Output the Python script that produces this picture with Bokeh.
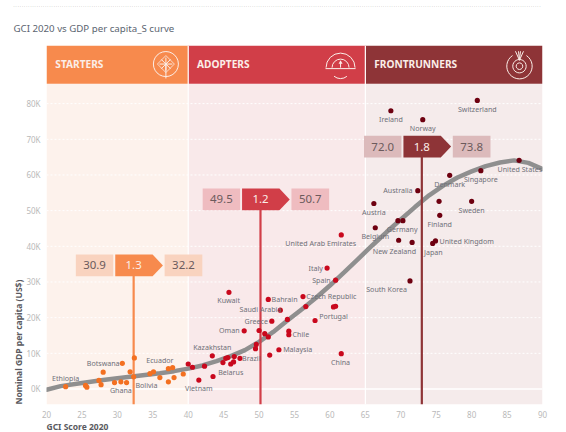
from bokeh.plotting import figure
from bokeh.models import Range1d, FixedTicker, CustomJSTickFormatter, Span, Title
from bokeh.embed import file_html
from bokeh.resources import INLINE
from bokeh.core.properties import value

FONT = "Noto Sans"

starters_x = [22.7,25.5,25.7,27.4,27.7,28.0,29.6,30.5,30.7,31.3,31.8,32.3,32.4,34.6,35.1,36.0,37.2,37.8,37.2,38.0,39.3]
starters_y = [0.65,1.0,0.5,2.4,1.2,4.7,1.8,2.0,7.2,1.8,4.8,3.4,8.7,4.3,4.8,3.2,5.7,6.0,2.0,3.2,4.2]
adopters_x = [40.0,40.6,41.5,42.3,43.4,43.5,44.9,45.3,45.6,45.75,46.0,46.4,46.5,47.3,47.9,49.5,49.6,50.0,50.8,51.3,51.3,51.5,51.8,52.8,53.0,54.0,54.2,54.2,56.2,56.6,57.9,59.6,60.5,60.8,60.8,61.6,61.6]
adopters_y = [7.0,6.1,2.5,6.4,9.3,3.5,7.4,8.6,8.8,27.1,7.0,7.6,9.1,8.6,16.3,11.3,12.5,16.4,15.5,14.6,25.1,9.5,19.0,11.0,22.1,19.5,16.2,15.2,25.9,23.1,19.2,33.9,23.0,23.2,30.5,43.2,9.9]
front_x = [66.2,66.4,68.6,69.6,70.3,69.7,71.6,71.3,72.4,73.1,74.5,74.9,75.4,75.5,76.9,80.0,80.8,81.3,86.7]
front_y = [52.0,45.2,78.0,47.2,47.2,41.7,41.1,30.3,55.6,75.5,40.8,41.5,52.6,48.7,59.9,52.6,80.9,61.2,64.1]

curve_x = [20,22,25,28,30,33,36,38,40,42,44,46,48,50,52,54,56,58,60,62,64,66,68,70,72,74,76,78,80,82,84,86,88,90]
curve_y = [-0.2,0.8,1.7,2.5,3.0,3.7,4.4,5.0,5.7,6.6,7.8,9.2,10.9,13.2,16.0,19.2,22.3,25.5,29.0,32.7,36.5,40.3,44.0,47.5,51.0,54.3,57.0,59.3,61.0,62.5,63.5,64.1,63.4,61.7]

label_names = ["Ethiopia","Botswana","Ghana","Bolivia","Ecuador","Kazakhstan","Vietnam","Belarus","Brazil","Kuwait","Saudi Arabia","Greece","Oman","Bahrain","Malaysia","Chile","Czech Republic","Portugal","Italy","Spain","United Arab Emirates","China","South Korea","Belgium","Germany","New Zealand","Japan","United Kingdom","Finland","Switzerland","Ireland","Norway","United States","Singapore","Denmark","Australia","Austria","Sweden"]
label_x = [22.7,28.0,30.5,34.1,36.0,43.4,41.5,46.0,48.9,45.7,50.2,49.6,45.8,53.6,55.45,55.9,60.2,60.5,58.0,58.8,58.7,61.5,68.0,66.4,70.2,69.1,74.6,79.3,75.5,80.8,68.6,73.1,86.8,81.3,76.9,69.6,66.2,80.0]
label_y = [3.2,7.25,-0.3,1.0,8.2,11.8,0.2,4.7,8.7,24.9,22.3,19.05,16.4,25.3,11.15,15.3,26.1,20.5,34.0,30.6,41.0,7.5,28.0,42.8,44.8,38.8,38.4,41.5,46.2,78.5,75.6,73.2,61.8,58.9,57.5,55.7,49.6,50.3]

phases = ["STARTERS","ADOPTERS","FRONTRUNNERS"]
phase_start = [20,40,65]
phase_end = [40,65,90]
header_col = ["#f78a4d","#d13e48","#8e3437"]
band_col = ["#fdf2ec","#f9e9ea","#f5ebeb"]
box_col = ["#f9d3bf","#efbcc0","#dcbabb"]
dot_col = ["#f37021","#c9081d","#6e0010"]

mark_x = [32.3,50.2,72.97]
mark_low = ["30.9","49.5","72.0"]
mark_gap = ["1.3","1.2","1.8"]
mark_high = ["32.2","50.7","73.8"]
mark_y = [34.65,53.15,67.95]

X0, X1, Y0, Y1 = 20, 90, -4.35, 96.3
HEAD_LOW = 85.6
ICON = "#fbeee8"

p = figure(width=566, height=432, output_backend="svg", toolbar_location=None,
           x_range=Range1d(X0, X1), y_range=Range1d(Y0, Y1),
           min_border_left=46, min_border_right=24, min_border_top=43, min_border_bottom=28,
           background_fill_color="white", outline_line_color=None)

p.xgrid.visible = False
p.ygrid.visible = False

for i in range(3):
    p.quad(left=phase_start[i], right=phase_end[i], bottom=Y0, top=HEAD_LOW, fill_color=band_col[i], line_color=None, level="image")
    p.quad(left=phase_start[i], right=phase_end[i], bottom=HEAD_LOW, top=Y1, fill_color=header_col[i], line_color=None, level="image")
    p.text(x=[phase_start[i]+1.25], y=[91.2], text=[phases[i]], text_font=value(FONT), text_font_style="bold",
           text_font_size="7.6pt", text_color=ICON, text_baseline="middle")

for edge in phase_start[1:]:
    p.add_layout(Span(location=edge, dimension="height", line_color="white", line_width=1.2, level="underlay"))

for v in range(10, 90, 10):
    p.add_layout(Span(location=v, dimension="width", line_color="white", line_width=1, line_dash="2 2", level="underlay"))
p.add_layout(Span(location=0, dimension="width", line_color="white", line_width=1.5, level="underlay"))

# header icons, sized in screen pixels around a centre
PX, PY = 1/7.08, 1/3.5875
def ring(cx, cy, r, a0=0.0, a1=6.28):
    p.arc([cx], [cy], radius=r, radius_units="screen", start_angle=a0, end_angle=a1, line_color=ICON, line_width=1)
def stroke(cx, cy, x0, y0, x1, y1, w=1):
    p.segment([cx+x0*PX], [cy+y0*PY], [cx+x1*PX], [cy+y1*PY], line_color=ICON, line_width=w)

# pinwheel
c1x, c1y = 36.85, 91.1
ring(c1x, c1y, 12.5)
stroke(c1x, c1y, 0, 0, 0, -14.5)
p.scatter([c1x], [c1y], size=13, marker="asterisk", line_color=ICON, line_width=1)
p.scatter([c1x], [c1y], size=12, marker="square", angle=0.785, fill_color=None, line_color=ICON, line_width=0.8)
# gauge
c2x, c2y = 61.5, 90.1
ring(c2x, c2y, 14.5, 0, 3.1416)
ring(c2x, c2y, 8.5, 0, 3.1416)
stroke(c2x, c2y, -15, -1, 15, -1)
stroke(c2x, c2y, 0, 0, 0, 5)
p.scatter([c2x], [c2y+5*PY], size=4, marker="triangle", fill_color=ICON, line_color=None)
ring(c2x, c2y-1*PY, 10, 4.0, 5.4)
# medal
c3x, c3y = 86.75, 90.5
ring(c3x, c3y, 12.7, 2.15, 0.99)
ring(c3x, c3y, 6.7)
ring(c3x, c3y, 3.3)
stroke(c3x, c3y, -4, 15, 0, 6)
stroke(c3x, c3y, 4, 15, 0, 6)
stroke(c3x, c3y, -1, 15, 0, 6)
stroke(c3x, c3y, 1, 15, 0, 6)

p.line(curve_x, curve_y, line_color="#8f8f8f", line_width=4.5, line_cap="round")

for i in range(3):
    p.segment(x0=[mark_x[i]], x1=[mark_x[i]], y0=[Y0], y1=[mark_y[i]], line_color=header_col[i], line_width=2.2)

p.scatter(starters_x, starters_y, size=5.2, fill_color=dot_col[0], line_color=None)
p.scatter(adopters_x, adopters_y, size=5.2, fill_color=dot_col[1], line_color=None)
p.scatter(front_x, front_y, size=5.2, fill_color=dot_col[2], line_color=None)

p.text(x=label_x, y=label_y, text=label_names, text_font=value(FONT), text_font_size="7.1px",
       text_color="#6f7078", text_align="center", text_baseline="middle")

for i in range(3):
    cx, cy = mark_x[i], mark_y[i]
    h = 3.05
    p.quad(left=cx-8.16, right=cx-2.88, bottom=cy-h, top=cy+h, fill_color=box_col[i], line_color=None)
    p.patch([cx-2.6, cx+2.67, cx+4.13, cx+2.67, cx-2.6], [cy+h, cy+h, cy, cy-h, cy-h], fill_color=header_col[i], line_color=None)
    p.quad(left=cx+4.37, right=cx+9.69, bottom=cy-h, top=cy+h, fill_color=box_col[i], line_color=None)
    common = dict(y=[cy], text_font=value(FONT), text_font_size="8.6pt", text_align="center", text_baseline="middle")
    p.text(x=[cx-5.52], text=[mark_low[i]], text_color="#6b5a5c", **common)
    p.text(x=[cx], text=[mark_gap[i]], text_color=ICON, **common)
    p.text(x=[cx+7.03], text=[mark_high[i]], text_color="#6b5a5c", **common)

p.xaxis.ticker = FixedTicker(ticks=list(range(20, 95, 5)))
p.yaxis.ticker = FixedTicker(ticks=list(range(0, 90, 10)))
p.yaxis.formatter = CustomJSTickFormatter(code="return tick + 'K'")
for ax in (p.xaxis[0], p.yaxis[0]):
    ax.axis_line_color = None
    ax.major_tick_line_color = None
    ax.minor_tick_line_color = None
    ax.major_label_text_color = "#b9b9b9"
    ax.major_label_text_font = FONT
    ax.major_label_text_font_size = "8px"
    ax.major_label_standoff = 0

axis_title = dict(text_font=FONT, text_font_size="8.5px", text_font_style="bold", text_color="#5a5a60", align="left")
p.add_layout(Title(text="GCI Score 2020", standoff=-3, **axis_title), "below")
p.add_layout(Title(text="Nominal GDP per capita (US$)", standoff=0, **axis_title), "left")

p.title = Title(text="· "*250, text_font=FONT, text_font_size="4px", text_font_style="normal", text_line_height=0.2,
                text_color="#7f7f7f", align="left", offset=-33, standoff=2)
p.add_layout(Title(text="GCI 2020 vs GDP per capita_S curve", text_font=FONT, text_font_size="9.7px",
                   text_font_style="normal", text_color="#5b6470", align="left", offset=-33, standoff=21), "above")

open("out.html", "w").write(file_html(p, INLINE))
